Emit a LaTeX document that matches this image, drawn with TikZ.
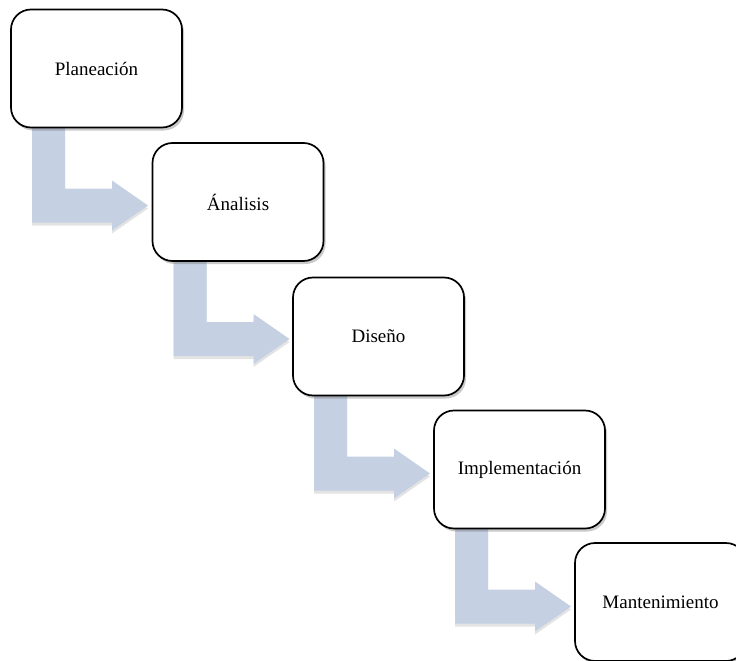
\documentclass[tikz,border=0pt]{standalone}
\usepackage{fontspec}
\setmainfont{Liberation Serif}
\usetikzlibrary{calc,shadows,backgrounds}
\definecolor{flowblue}{RGB}{197,208,227}
\tikzset{
  stage/.style={draw=black, line width=1.7pt, fill=white, rounded corners=20pt,
    minimum width=171pt, minimum height=118pt, inner sep=0pt, outer sep=0pt,
    font=\fontsize{19}{22}\selectfont,
    drop shadow={shadow xshift=2pt, shadow yshift=-3pt, opacity=0.35, fill=black!60}},
  bentarrow/.style={fill=flowblue, draw=none,
    drop shadow={shadow xshift=0pt, shadow yshift=-3pt, opacity=0.22, fill=black!50}}
}
% bent block arrow hanging below a stage box and pointing to the next one
\newcommand{\stepArrow}[1]{%
  \fill[bentarrow]
    ($(#1.south west)+(21,0)$) -- ($(#1.south west)+(54,0)$)
    -- ($(#1.south west)+(54,61)$) -- ($(#1.south west)+(101,61)$)
    -- ($(#1.south west)+(101,53)$) -- ($(#1.south west)+(137,78)$)
    -- ($(#1.south west)+(101,103)$) -- ($(#1.south west)+(101,95)$)
    -- ($(#1.south west)+(21,95)$) -- cycle;}
\begin{document}
\begin{tikzpicture}[x=1pt, y=-1pt]
  \useasboundingbox (0,0) rectangle (736,661);
  % stage boxes
  \node[stage] (b1) at (96.5,68.5)   {Planeación};
  \node[stage] (b2) at (238,202)     {Ánalisis};
  \node[stage] (b3) at (378.5,336.5) {Diseño};
  \node[stage] (b4) at (519.5,469.5) {Implementación};
  \node[stage] (b5) at (660.5,602)   {Mantenimiento};
  % bent arrows, behind the boxes
  \begin{scope}[on background layer]
    \stepArrow{b1}
    \stepArrow{b2}
    \stepArrow{b3}
    \stepArrow{b4}
  \end{scope}
\end{tikzpicture}
\end{document}
